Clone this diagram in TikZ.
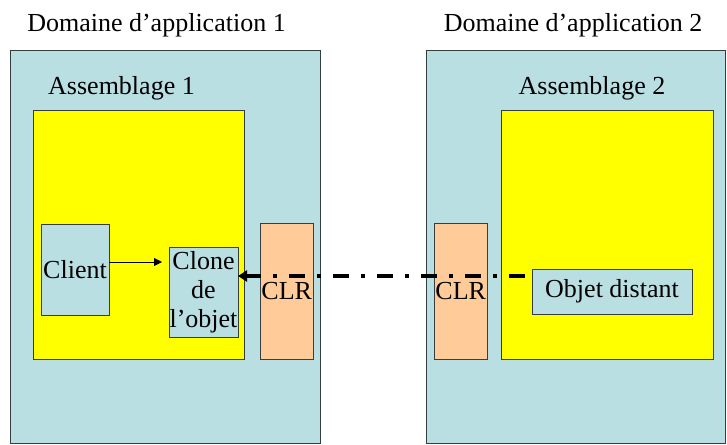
\documentclass[tikz,border=0pt]{standalone}
\usepackage{fontspec}
\setmainfont{Liberation Serif}
\usetikzlibrary{arrows.meta}
\definecolor{lblue}{RGB}{186,223,227}
\definecolor{yel}{RGB}{255,255,0}
\definecolor{peach}{RGB}{255,204,153}
\definecolor{edge}{RGB}{55,62,64}
\begin{document}
\begin{tikzpicture}[x=1pt,y=-1pt,
  box/.style={draw=edge,line width=0.9pt,inner sep=0pt,outer sep=0pt},
  dom/.style={box,fill=lblue,minimum height=393pt},
  asm/.style={box,fill=yel,minimum width=211.5pt,minimum height=249pt},
  clr/.style={box,fill=peach,minimum height=136pt,font=\fontsize{26}{29}\selectfont},
  obj/.style={box,fill=lblue,font=\fontsize{26}{29}\selectfont,align=center},
  lbl/.style={anchor=base,inner sep=0pt,font=\fontsize{26}{29}\selectfont},
  thinarrow/.style={line width=0.8pt,-{Triangle[length=8pt,width=8pt]}},
  dasharrow/.style={line width=4pt,dash pattern=on 16pt off 12pt on 4pt off 12pt,-{Triangle[length=9pt,width=11pt]}}
]
\useasboundingbox (0,0) rectangle (727,444);
% domains
\node[dom,minimum width=309.8pt] (dom1) at (165.6,246.5) {};
\node[dom,minimum width=298.3pt] (dom2) at (575.85,246.5) {};
\node[lbl] (t1) at (156.5,32) {Domaine d’application 1};
\node[lbl] (t2) at (573,32) {Domaine d’application 2};
% assemblies
\node[asm] (asm1) at (139,235) {};
\node[asm] (asm2) at (607.5,235) {};
\node[lbl] (a1) at (121.5,94) {Assemblage 1};
\node[lbl] (a2) at (592,94) {Assemblage 2};
% CLR
\node[clr,minimum width=52.5pt] (clr1) at (286.75,291) {CLR};
\node[clr,minimum width=53.5pt] (clr2) at (460.75,291) {CLR};
% objects
\node[obj,minimum width=68pt,minimum height=91pt] (client) at (75,269.5) {Client};
\node[obj,minimum width=69pt,minimum height=90pt] (clone) at (203.5,292) {Clone\\de\\l’objet};
\node[obj,minimum width=160pt,minimum height=45pt] (objd) at (612,291.5) {Objet distant};
% connectors
\coordinate (cs) at ([yshift=7.5pt]client.east);
\draw[thinarrow,shorten >=7pt] (cs) -- (clone.west |- cs);
\coordinate (ds) at ([xshift=-7pt,yshift=15.5pt]objd.west);
\draw[dasharrow] (ds) -- (clone.east |- ds);
\end{tikzpicture}
\end{document}
